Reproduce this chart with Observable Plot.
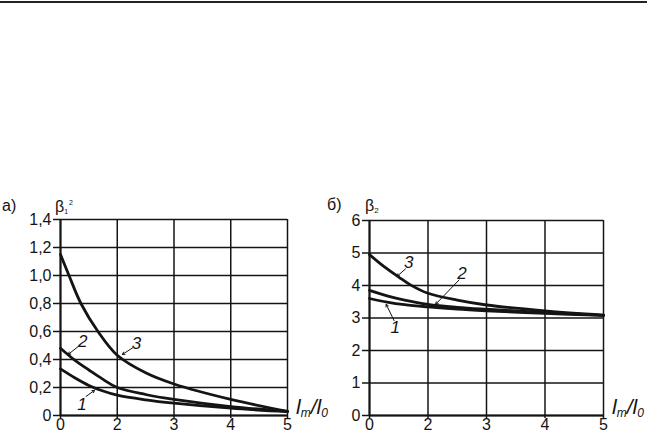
<!DOCTYPE html>
<html><head><meta charset="utf-8">
<script src="https://cdn.jsdelivr.net/npm/d3@7"></script>
<script src="https://cdn.jsdelivr.net/npm/@observablehq/plot@0.6"></script>
<style>
html,body{margin:0;padding:0;background:#fff;}
#wrap{position:relative;width:647px;height:438px;overflow:hidden;font-family:"Liberation Sans",Arial,sans-serif;}
#topline{position:absolute;left:0;top:1px;width:647px;height:2px;background:#222;}
#pa{position:absolute;left:0;top:190px;}
#pb{position:absolute;left:320px;top:190px;}
svg{overflow:visible;background:transparent !important;}
</style></head><body>
<div id="wrap"><div id="topline"></div><div id="pa"></div><div id="pb"></div></div>
<script>
// x positions (equally spaced grid) and their printed labels
const xTickPos = [0, 1, 2, 3, 4];
const xTickLabels = ["0", "2", "3", "4", "5"];

const yTicksA = [0, 0.2, 0.4, 0.6, 0.8, 1.0, 1.2, 1.4];
const yTickLabelsA = ["0", "0,2", "0,4", "0,6", "0,8", "1,0", "1,2", "1,4"];
const yTicksB = [0, 1, 2, 3, 4, 5, 6];
const yTickLabelsB = ["0", "1", "2", "3", "4", "5", "6"];

// panel a) curves  [x position, beta1^2]
const curveA1 = [[0,0.333],[0.25,0.27],[0.5,0.215],[0.75,0.175],[1,0.145],[1.5,0.112],[2,0.088],[3,0.052],[4,0.028]];
const curveA2 = [[0,0.48],[0.25,0.395],[0.5,0.325],[0.75,0.258],[1,0.2],[1.5,0.15],[2,0.115],[3,0.064],[4,0.03]];
const curveA3 = [[0,1.15],[0.15,1.0],[0.36,0.8],[0.66,0.6],[1,0.43],[1.5,0.305],[2,0.225],[3,0.115],[4,0.03]];

// panel б) curves [x position, beta2]
const curveB1 = [[0,3.6],[0.3,3.49],[0.6,3.41],[1,3.34],[1.5,3.27],[2,3.22],[3,3.14],[4,3.08]];
const curveB2 = [[0,3.85],[0.3,3.68],[0.6,3.55],[1,3.42],[1.5,3.33],[2,3.27],[3,3.17],[4,3.08]];
const curveB3 = [[0,4.95],[0.25,4.58],[0.5,4.26],[0.7,4.02],[1,3.76],[1.5,3.55],[2,3.4],[3,3.22],[4,3.09]];

// curve number labels and leader lines
const labelsA = [{t:"1",x:0.38,y:0.079},{t:"2",x:0.39,y:0.53},{t:"3",x:1.34,y:0.516}];
const leadersA = [{x1:0.45,y1:0.136,x2:0.6,y2:0.18},{x1:0.335,y1:0.5,x2:0.135,y2:0.436},{x1:1.27,y1:0.483,x2:1.09,y2:0.436}];
const labelsB = [{t:"1",x:0.44,y:2.70},{t:"2",x:1.58,y:4.36},{t:"3",x:0.67,y:4.72}];
const leadersB = [{x1:0.42,y1:2.92,x2:0.285,y2:3.42},{x1:1.53,y1:4.17,x2:1.13,y2:3.42},{x1:0.615,y1:4.51,x2:0.47,y2:4.28}];

const INK = "#141414";
const FONT = "Liberation Sans, Arial, sans-serif";
const style = {background:"transparent", fontFamily: FONT, fontSize:"16px", color:INK, overflow:"visible"};

function panel({width, height, mL, mR, mT, mB, yTicks, yLabels, yMax, curves, labels, leaders}) {
  const curveMarks = curves.map(c => Plot.line(c, {x: d => d[0], y: d => d[1], curve: "catmull-rom", stroke: INK, strokeWidth: 2.8}));
  return Plot.plot({
    width, height, marginLeft: mL, marginRight: mR, marginTop: mT, marginBottom: mB,
    style,
    x: {domain: [0, 4], label: null},
    y: {domain: [0, yMax], label: null},
    marks: [
      Plot.gridX(xTickPos, {stroke: INK, strokeOpacity: 1, strokeWidth: 1.5}),
      Plot.gridY(yTicks, {stroke: INK, strokeOpacity: 1, strokeWidth: 1.5}),
      Plot.axisY(yTicks, {tickFormat: d => yLabels[yTicks.indexOf(d)], tickSize: 7, tickPadding: 2, strokeWidth: 1.5, fontSize: 16, fill: INK, label: null}),
      Plot.axisX(xTickPos, {tickFormat: d => xTickLabels[xTickPos.indexOf(d)], tickSize: 3, tickPadding: 0, strokeWidth: 1.5, fontSize: 16, fill: INK, label: null}),
      Plot.ruleX([0], {stroke: INK, strokeWidth: 2}),
      Plot.ruleY([0], {stroke: INK, strokeWidth: 2}),
      ...curveMarks,
      Plot.arrow(leaders, {x1: "x1", y1: "y1", x2: "x2", y2: "y2", stroke: INK, strokeWidth: 1, headLength: 4}),
      Plot.text(labels, {x: "x", y: "y", text: "t", fontSize: 17, fontStyle: "italic", fill: INK})
    ]
  });
}

const svgA = panel({width: 340, height: 248, mL: 60, mR: 53, mT: 29, mB: 23,
  yTicks: yTicksA, yLabels: yTickLabelsA, yMax: 1.4,
  curves: [curveA1, curveA2, curveA3], labels: labelsA, leaders: leadersA});
const svgB = panel({width: 327, height: 248, mL: 49, mR: 44, mT: 30, mB: 23,
  yTicks: yTicksB, yLabels: yTickLabelsB, yMax: 6,
  curves: [curveB1, curveB2, curveB3], labels: labelsB, leaders: leadersB});

document.getElementById("pa").appendChild(svgA);
document.getElementById("pb").appendChild(svgB);

// tick label size
[svgA, svgB].forEach(svg => {
  d3.select(svg).selectAll('g[aria-label$="tick label"]').attr("font-size", 16)
    .selectAll("text").style("font-size", "16px");
});

function addText(svg, x, y, parts) {
  const t = d3.select(svg).append("text").attr("x", x).attr("y", y)
    .attr("text-anchor", "start")
    .attr("fill", INK).style("font-family", FONT);
  parts.forEach(p => {
    const s = t.append("tspan").text(p.s).style("font-size", p.fs + "px");
    if (p.dy) s.attr("dy", p.dy);
    if (p.dx) s.attr("dx", p.dx);
    if (p.it) s.style("font-style", "italic");
  });
}
function xLabel(svg, x, y) {
  addText(svg, x, y, [
    {s: "l", fs: 21, it: true},
    {s: "m", fs: 12, it: true, dy: 3},
    {s: "/", fs: 21, it: true, dy: -3},
    {s: "l", fs: 21, it: true},
    {s: "0", fs: 12, it: true, dy: 3}
  ]);
}
// panel a)
addText(svgA, 2, 21, [{s: "a)", fs: 16}]);
addText(svgA, 55, 22, [{s: "β", fs: 16}, {s: "1", fs: 7, dy: 2}, {s: "2", fs: 7, dx: 1, dy: -9}]);
xLabel(svgA, 296, 224);
// panel б)
addText(svgB, 7, 20, [{s: "б)", fs: 16}]);
addText(svgB, 45, 21, [{s: "β", fs: 16}, {s: "2", fs: 8, dy: 2}]);
xLabel(svgB, 292, 224);
</script>
</body></html>
